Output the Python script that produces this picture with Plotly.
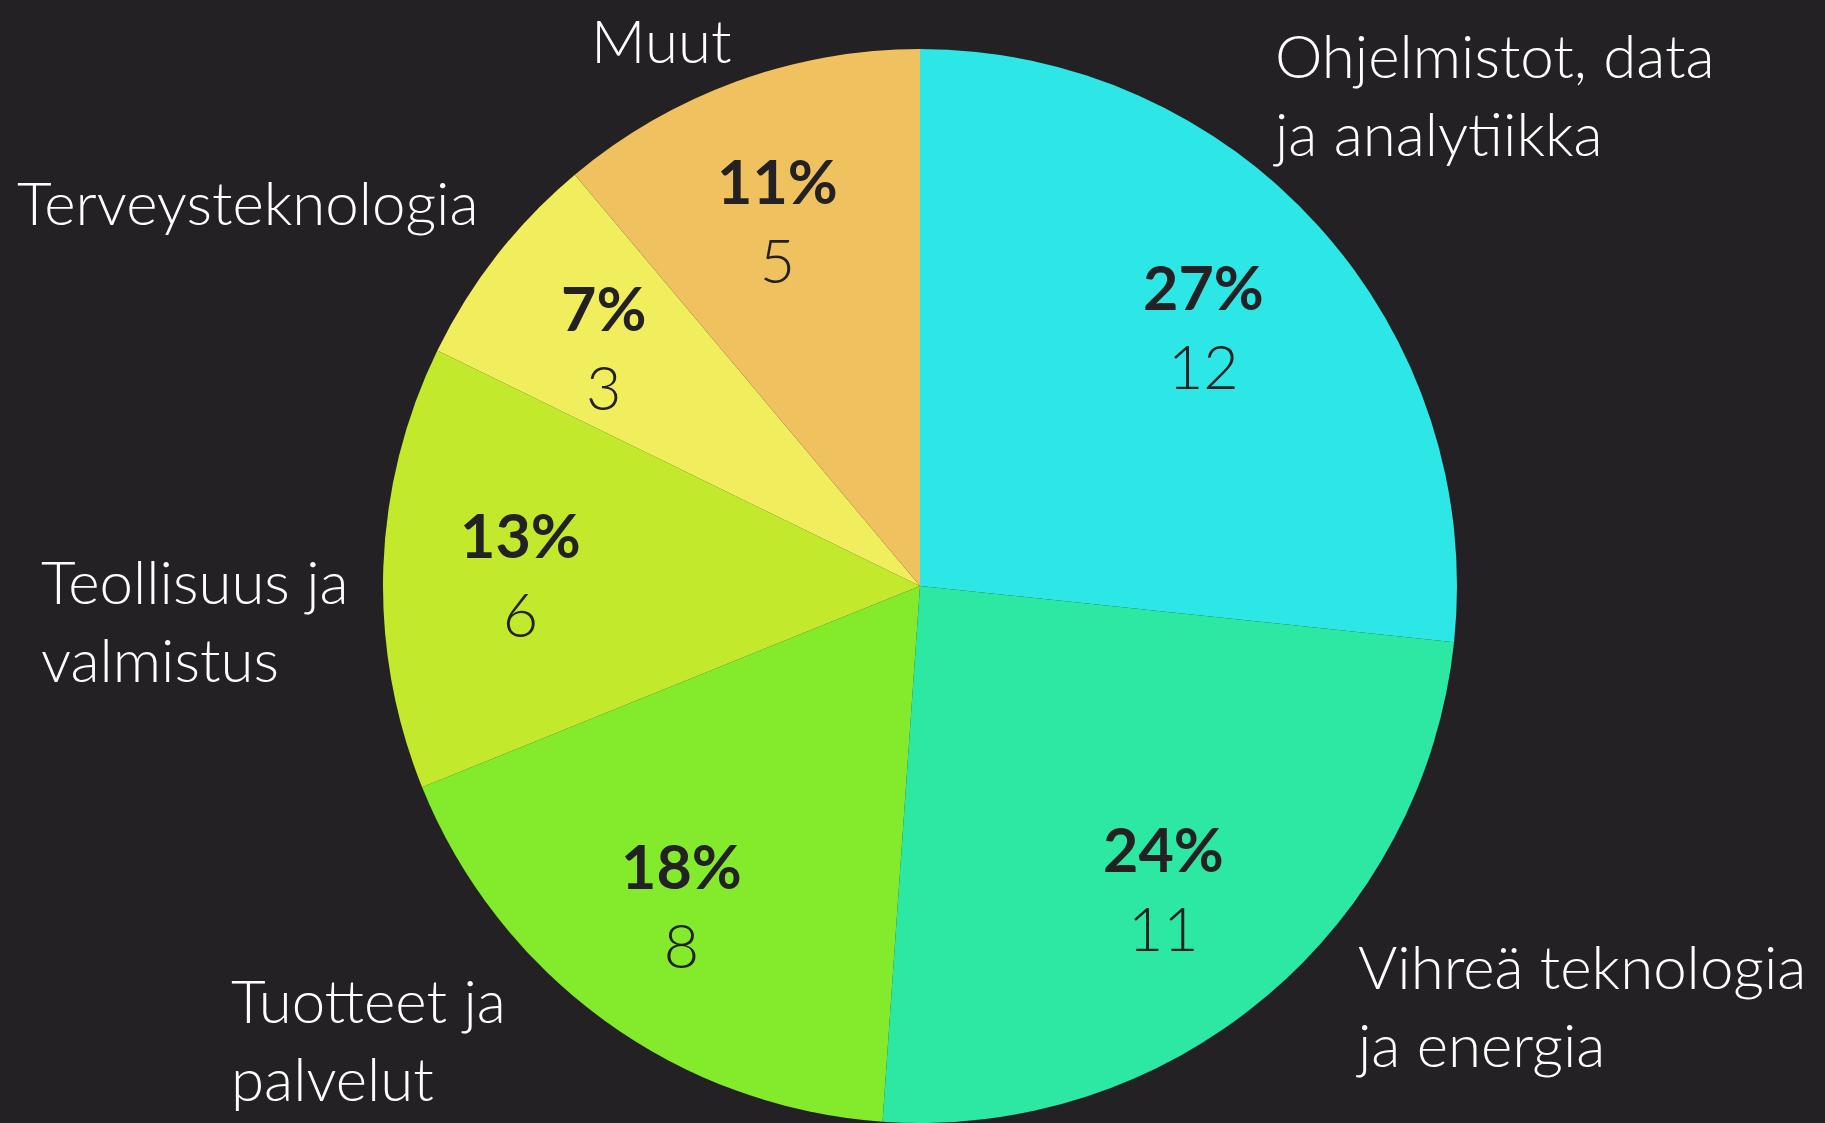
import math
import plotly.graph_objects as go

# ---- data ----
categories = ["Ohjelmistot, data<br>ja analytiikka", "Vihreä teknologia<br>ja energia",
              "Tuotteet ja<br>palvelut", "Teollisuus ja<br>valmistus",
              "Terveysteknologia", "Muut"]
counts = [12, 11, 8, 6, 3, 5]
colors = ["#2CE7E6", "#2CE8A2", "#84EA2C", "#C3E92C", "#F1EE5E", "#F0C15F"]

# ---- layout constants ----
W, H = 1825, 1123
CX, CY, R = 920, 586, 537           # pie centre / radius in pixels
BG = "#232123"
FONT = "Lato"
INNER_R = 0.73                      # radial position of in-slice labels
# outer label placement (left x, vertical middle y) in pixels
outer_pos = [(1272, 94), (1355, 1005), (230, 1039), (40, 620), (16, 202), (590, 40)]

def px2paper(x, y):
    return x / W, 1 - y / H

fig = go.Figure(go.Pie(
    values=counts,
    labels=[c.replace("<br>", " ") for c in categories],
    marker=dict(colors=colors, line=dict(width=0)),
    sort=False, direction="clockwise", rotation=0,
    textinfo="none", hoverinfo="label+value+percent",
    domain=dict(x=[(CX - R) / W, (CX + R) / W], y=[1 - (CY + R) / H, 1 - (CY - R) / H]),
    showlegend=False,
))

total = sum(counts)
annotations = []
cum = 0
for cat, v, (lx, ly) in zip(categories, counts, outer_pos):
    mid = (cum + v / 2) / total * 2 * math.pi
    cum += v
    x = CX + INNER_R * R * math.sin(mid)
    y = CY - INNER_R * R * math.cos(mid)
    xp, yp = px2paper(x, y)
    pct = round(v / total * 100)
    annotations.append(dict(
        x=xp, y=yp, xref="paper", yref="paper", showarrow=False,
        xanchor="center", yanchor="middle", align="center",
        xshift=-8, yshift=-2,
        text=f"<b>{pct}%</b><br>{v}",
        font=dict(family=FONT, size=61, color="#232123", weight=300),
    ))
    oxp, oyp = px2paper(lx, ly)
    annotations.append(dict(
        x=oxp, y=oyp, xref="paper", yref="paper", showarrow=False,
        xanchor="left", yanchor="middle", align="left", borderpad=0,
        text=cat,
        font=dict(family=FONT, size=60, color="#FFFFFF", weight=300),
    ))

fig.update_layout(
    width=W, height=H,
    margin=dict(l=0, r=0, t=0, b=0),
    paper_bgcolor=BG, plot_bgcolor=BG,
    annotations=annotations,
)

fig.write_html("out.html",
               config={"displayModeBar": False},
               post_script="document.body.style.margin='0';document.body.style.background='#232123';")
